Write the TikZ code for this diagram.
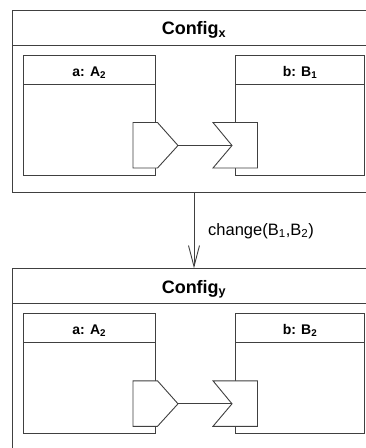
\documentclass[tikz,border=0pt]{standalone}
\usepackage{fontspec}
\setmainfont{Liberation Sans}
\usetikzlibrary{arrows.meta}
\tikzset{
  frame/.style={draw=black!75, line width=0.9pt},
  port/.style={draw=black!75, line width=0.9pt, fill=white},
  titletxt/.style={font=\bfseries\fontsize{18}{20}\selectfont, inner sep=0pt, anchor=base},
  headtxt/.style={font=\bfseries\fontsize{14}{16}\selectfont, inner sep=0pt, anchor=base},
  labeltxt/.style={font=\fontsize{16.5}{18}\selectfont, inner sep=0pt},
  pics/config/.style n args={3}{code={
    \draw[frame] (0,0) rectangle (367.5,182);
    \draw[frame] (0,35) -- (367.5,35);
    \node[titletxt] (-title) at (181.5,24.7) {Config\textsubscript{#1}};
    \coordinate (-n) at (181.5,0);
    \coordinate (-s) at (181.5,182);
    % part a
    \draw[frame] (11,45.5) rectangle (142.5,165);
    \draw[frame] (11,74) -- (142.5,74);
    \node[headtxt] (-ahead) at (76.75,66.5) {a: A\textsubscript{#2}};
    % part b
    \draw[frame] (223,45.5) rectangle (352,165);
    \draw[frame] (223,74) -- (352,74);
    \node[headtxt] (-bhead) at (287.5,66.5) {b: B\textsubscript{#3}};
    % ports
    \draw[port] (120.5,112.5) -- (145,112.5) -- (165.5,135.5) -- (145,158) -- (120.5,158) -- cycle;
    \draw[port] (200.5,112.5) -- (245,112.5) -- (245,158) -- (200.5,158) -- (219.5,135.5) -- cycle;
    \coordinate (-aout) at (165.5,135.5);
    \coordinate (-bin) at (219.5,135.5);
    \draw[frame] (-aout) -- (-bin);
  }}
}
\begin{document}
\begin{tikzpicture}[x=1pt,y=-1pt]
\clip (0,0) rectangle (366,448);
\fill[white] (0,0) rectangle (366,448);
\pic (top) at (12.5,10) {config={x}{2}{1}};
\pic (bot) at (12.5,268.3) {config={y}{2}{2}};
\draw[frame, -{Straight Barb[length=21pt,width=11pt,line width=0.9pt]}] (top-s) -- (bot-n);
\node[labeltxt, anchor=base west] (chg) at (208,235.3) {change(B\textsubscript{1},B\textsubscript{2})};
\end{tikzpicture}
\end{document}
